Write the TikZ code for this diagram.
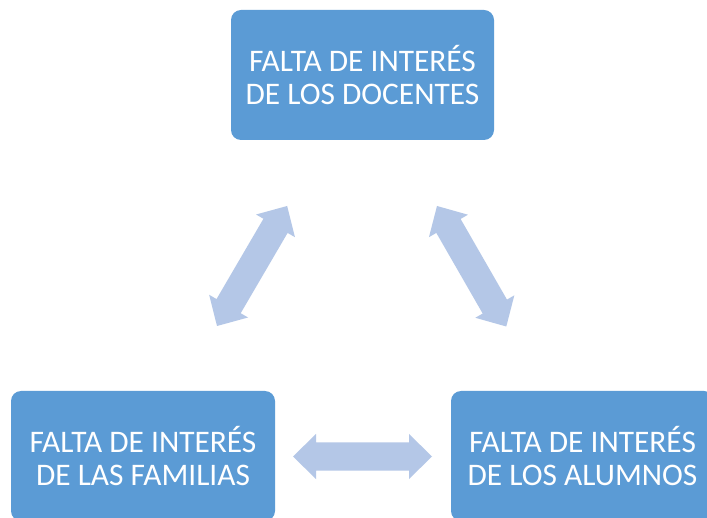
\documentclass[tikz,border=0pt]{standalone}
\usepackage{fontspec}
\setmainfont{Carlito}
\definecolor{boxblue}{HTML}{5B9BD5}
\definecolor{arrowblue}{HTML}{B4C7E7}
\tikzset{
  box/.style={draw=none, fill=boxblue, rounded corners=10pt, minimum width=263pt, minimum height=130pt,
    inner sep=0pt, align=center, text=white, font=\fontsize{31.4}{33.5}\selectfont},
  pics/dblarr/.style={code={
    \fill[arrowblue] (0,0) -- (23,22.5) -- (23,14) -- (116,14) -- (116,22.5) -- (139,0)
      -- (116,-22.5) -- (116,-14) -- (23,-14) -- (23,-22.5) -- cycle;}}
}
\begin{document}
\begin{tikzpicture}[x=1pt,y=1pt]
\clip (0,0) rectangle (707,517);
\fill[white] (0,0) rectangle (707,517);
\node[box] (docentes) at (362.5,442) {FALTA DE INTERÉS\\DE LOS DOCENTES};
\node[box, minimum width=264pt] (familias) at (143,61) {FALTA DE INTERÉS\\DE LAS FAMILIAS};
\node[box] (alumnos) at (582.5,61) {FALTA DE INTERÉS\\DE LOS ALUMNOS};
\coordinate (aL) at (217,191);
\coordinate (aR) at (437,311);
\coordinate (aB) at (293,60.5);
\pic[rotate=59.7] at (aL) {dblarr};
\pic[rotate=-60.1] at (aR) {dblarr};
\pic at (aB) {dblarr};
\end{tikzpicture}
\end{document}
